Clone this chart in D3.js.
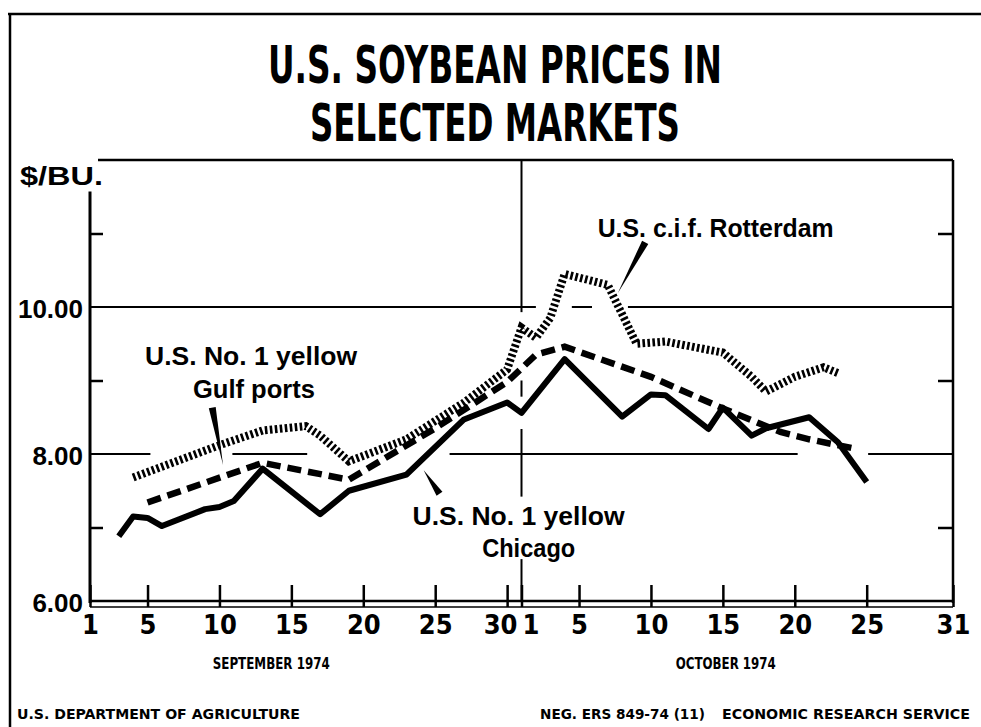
<!DOCTYPE html>
<html lang="en">
<head>
  <meta charset="UTF-8">
  <title>U.S. Soybean Prices in Selected Markets</title>
  <script src="https://d3js.org/d3.v7.min.js"></script>
  <style>
    body { margin: 0; background: #fff; }
    svg { display: block; font-family: "Liberation Sans", Arial, sans-serif; font-weight: bold; }
    .title { font-family: "Liberation Sans Narrow", "DejaVu Sans Condensed", sans-serif; font-size: 51px; }
    .narrow { font-family: "Liberation Sans Narrow", "DejaVu Sans Condensed", sans-serif; }
    .axis path { display: none; }
    .axis line { stroke: #000; stroke-width: 2.5; }
    .axis text { fill: #000; font-weight: bold; }
  </style>
</head>
<body>
  <div id="chart"></div>
  <script>
    // prices in $/bu, dates as month/day of 1974
    const chicagoDates = ["9/3", "9/4", "9/5", "9/6", "9/9", "9/10", "9/11", "9/13", "9/17", "9/19", "9/23",
      "9/27", "9/30", "10/1", "10/4", "10/8", "10/10", "10/11", "10/14", "10/15", "10/17", "10/18", "10/21", "10/23", "10/25"];
    const chicagoPrices = [6.88, 7.15, 7.13, 7.02, 7.25, 7.28, 7.36, 7.80, 7.18, 7.50, 7.72,
      8.47, 8.70, 8.56, 9.29, 8.51, 8.81, 8.80, 8.34, 8.63, 8.25, 8.35, 8.50, 8.16, 7.62];

    const gulfDates = ["9/5", "9/13", "9/19", "9/25", "9/30", "10/2", "10/4", "10/10", "10/15", "10/19", "10/21", "10/24"];
    const gulfPrices = [7.34, 7.88, 7.65, 8.35, 8.98, 9.35, 9.46, 9.05, 8.62, 8.30, 8.20, 8.08];

    const rotterdamDates = ["9/4", "9/10", "9/13", "9/16", "9/17", "9/19", "9/23", "9/27", "9/30", "10/1", "10/2",
      "10/3", "10/4", "10/7", "10/8", "10/9", "10/11", "10/15", "10/17", "10/18", "10/20", "10/22", "10/23"];
    const rotterdamPrices = [7.68, 8.12, 8.32, 8.38, 8.25, 7.90, 8.20, 8.70, 9.15, 9.72, 9.58,
      9.85, 10.45, 10.30, 9.90, 9.50, 9.53, 9.38, 9.05, 8.85, 9.05, 9.18, 9.10];

    const yLabelValues = [6, 8, 10];
    const yLabelText = ["6.00", "8.00", "10.00"];
    const yMinorValues = [7, 9, 11];

    const xTickDates = ["9/1", "9/5", "9/10", "9/15", "9/20", "9/25", "9/30", "10/1", "10/5", "10/10", "10/15", "10/20", "10/25", "10/31"];
    const xTickText = ["1", "5", "10", "15", "20", "25", "30", "1", "5", "10", "15", "20", "25", "31"];

    const monthNames = ["SEPTEMBER 1974", "OCTOBER 1974"];
    const monthCenters = ["9/13.6", "10/15.2"];

    // gridline pieces (broken where the curves and notes cross them)
    const grid10Pieces = [["9/1", "10/2"], ["10/4.5", "10/5.9"], ["10/8.4", "10/31"]];
    const grid8Pieces = [["9/1", "9/5.2"], ["9/10.9", "9/16.1"], ["9/26", "10/20.2"], ["10/25.1", "10/31"]];
    const octPieces = [[12, 9.93], [9.0, 8.78], [8.34, 7.42], [6.57, 6]];

    const dayIndex = s => { const [m, d] = s.split("/").map(Number); return m === 9 ? d : 30 + d; };

    const W = 981, H = 727;
    const svg = d3.select("#chart").append("svg").attr("width", W).attr("height", H);

    const x = d3.scaleLinear().domain([1, 61]).range([90, 953]);
    const y = d3.scaleLinear().domain([6, 12]).range([601, 160]);

    // outer frame
    svg.append("line").attr("x1", 8).attr("x2", W).attr("y1", 14).attr("y2", 14)
      .attr("stroke", "#000").attr("stroke-width", 2.5);
    svg.append("line").attr("x1", 10).attr("x2", 10).attr("y1", 14).attr("y2", H)
      .attr("stroke", "#000").attr("stroke-width", 2.5);

    // title
    const title = svg.append("g").attr("class", "title").attr("text-anchor", "middle");
    title.append("text").attr("x", 495).attr("y", 83).attr("textLength", 454)
      .attr("lengthAdjust", "spacingAndGlyphs").text("U.S. SOYBEAN PRICES IN");
    title.append("text").attr("x", 495).attr("y", 141).attr("textLength", 370)
      .attr("lengthAdjust", "spacingAndGlyphs").text("SELECTED MARKETS");

    // frame of the plot
    const frame = svg.append("g").attr("stroke", "#000").attr("fill", "none");
    frame.append("line").attr("x1", 98).attr("x2", x(61)).attr("y1", y(12)).attr("y2", y(12)).attr("stroke-width", 2.5);
    frame.append("line").attr("x1", x(1)).attr("x2", x(1)).attr("y1", y(11.57)).attr("y2", y(6) + 2).attr("stroke-width", 3);
    frame.append("line").attr("x1", x(61)).attr("x2", x(61)).attr("y1", y(12)).attr("y2", y(6) + 2).attr("stroke-width", 2.5);
    frame.append("line").attr("x1", x(1)).attr("x2", x(61)).attr("y1", y(6)).attr("y2", y(6)).attr("stroke-width", 2.5);
    frame.append("line").attr("x1", x(1)).attr("x2", x(61)).attr("y1", y(6) + 6).attr("y2", y(6) + 6).attr("stroke-width", 1.5);

    // gridlines
    const grid = svg.append("g").attr("stroke", "#000").attr("stroke-width", 2);
    grid10Pieces.forEach(p => grid.append("line")
      .attr("x1", x(dayIndex(p[0]))).attr("x2", x(dayIndex(p[1]))).attr("y1", y(10)).attr("y2", y(10)));
    grid8Pieces.forEach(p => grid.append("line")
      .attr("x1", x(dayIndex(p[0]))).attr("x2", x(dayIndex(p[1]))).attr("y1", y(8)).attr("y2", y(8)));
    octPieces.forEach(p => grid.append("line")
      .attr("x1", x(31)).attr("x2", x(31)).attr("y1", y(p[0])).attr("y2", y(p[1])));

    // minor ticks on both sides
    svg.append("g").attr("class", "axis").attr("transform", `translate(${x(1)},0)`)
      .call(d3.axisLeft(y).tickValues(yMinorValues).tickSize(-13).tickFormat(""));
    svg.append("g").attr("class", "axis").attr("transform", `translate(${x(61)},0)`)
      .call(d3.axisRight(y).tickValues(yMinorValues).tickSize(-15).tickFormat(""));

    // y labels
    svg.append("g").attr("class", "axis").attr("transform", `translate(${x(1)},0)`)
      .call(d3.axisLeft(y).tickValues(yLabelValues).tickSize(0).tickPadding(7)
        .tickFormat((d, i) => yLabelText[i]))
      .selectAll("text").attr("font-size", 26).attr("dy", "0.42em");

    svg.append("text").attr("x", 20).attr("y", 185).attr("font-size", 25)
      .attr("textLength", 83).attr("lengthAdjust", "spacingAndGlyphs").text("$/BU.");

    // x axis ticks + labels
    const xAxis = svg.append("g").attr("class", "axis narrow").attr("transform", `translate(0,${y(6) + 6})`)
      .call(d3.axisBottom(x).tickValues(xTickDates.map(dayIndex)).tickSize(-22).tickPadding(8)
        .tickFormat((d, i) => xTickText[i]));
    xAxis.selectAll("text").attr("font-size", 27).attr("dy", "0.72em")
      .attr("dx", (d, i) => i === 6 ? -7 : i === 7 ? 9 : 0);

    svg.append("g").attr("class", "narrow").attr("text-anchor", "middle").attr("font-size", 16)
      .selectAll("text").data(monthNames).join("text")
      .attr("x", (d, i) => x(dayIndex(monthCenters[i])))
      .attr("y", 669)
      .attr("textLength", (d, i) => i === 0 ? 117 : 100).attr("lengthAdjust", "spacingAndGlyphs")
      .text(d => d);

    // series
    const line = d3.line().x(d => x(d[0])).y(d => y(d[1]));
    const pts = (dates, prices) => dates.map((d, i) => [dayIndex(d), prices[i]]);

    svg.append("path").datum(pts(rotterdamDates, rotterdamPrices)).attr("d", line)
      .attr("fill", "none").attr("stroke", "#000").attr("stroke-width", 8)
      .attr("stroke-dasharray", "2.6,2.4");
    svg.append("path").datum(pts(gulfDates, gulfPrices)).attr("d", line)
      .attr("fill", "none").attr("stroke", "#000").attr("stroke-width", 6.5)
      .attr("stroke-dasharray", "14,7");
    svg.append("path").datum(pts(chicagoDates, chicagoPrices)).attr("d", line)
      .attr("fill", "none").attr("stroke", "#000").attr("stroke-width", 6)
      .attr("stroke-linejoin", "round");

    // leaders: wedge from thick end to thin end, in (day, price)
    const leaders = [
      [[39.6, 10.88], [37.7, 10.19]],
      [[9.5, 8.63], [10.25, 7.85]],
      [[25.3, 7.46], [24.2, 7.78]]
    ];
    leaders.forEach(([a, b]) => {
      const ax = x(a[0]), ay = y(a[1]), bx = x(b[0]), by = y(b[1]);
      const len = Math.hypot(bx - ax, by - ay), nx = -(by - ay) / len * 3.5, ny = (bx - ax) / len * 3.5;
      svg.append("path").attr("fill", "#000")
        .attr("d", `M${ax + nx},${ay + ny}L${ax - nx},${ay - ny}L${bx},${by}Z`);
    });

    // series labels
    const notes = [
      { text: "U.S. c.i.f. Rotterdam", day: 44.5, price: 10.95, w: 236 },
      { text: "U.S. No. 1 yellow", day: 12.2, price: 9.21, w: 212 },
      { text: "Gulf ports", day: 12.4, price: 8.76, w: 122 },
      { text: "U.S. No. 1 yellow", day: 30.8, price: 7.03, w: 212 },
      { text: "Chicago", day: 31.5, price: 6.60, w: 93 }
    ];
    svg.append("g").attr("text-anchor", "middle").attr("font-size", 25)
      .selectAll("text").data(notes).join("text")
      .attr("x", d => x(d.day)).attr("y", d => y(d.price))
      .attr("textLength", d => d.w).attr("lengthAdjust", "spacingAndGlyphs")
      .text(d => d.text);

    // footer
    const foot = svg.append("g").attr("class", "narrow").attr("font-size", 14);
    foot.append("text").attr("x", 17).attr("y", 719).attr("textLength", 283)
      .attr("lengthAdjust", "spacingAndGlyphs").text("U.S. DEPARTMENT OF AGRICULTURE");
    foot.append("text").attr("x", 540).attr("y", 719).attr("textLength", 165)
      .attr("lengthAdjust", "spacingAndGlyphs").text("NEG. ERS 849-74 (11)");
    foot.append("text").attr("x", 722).attr("y", 719).attr("textLength", 248)
      .attr("lengthAdjust", "spacingAndGlyphs").text("ECONOMIC RESEARCH SERVICE");
  </script>
</body>
</html>
